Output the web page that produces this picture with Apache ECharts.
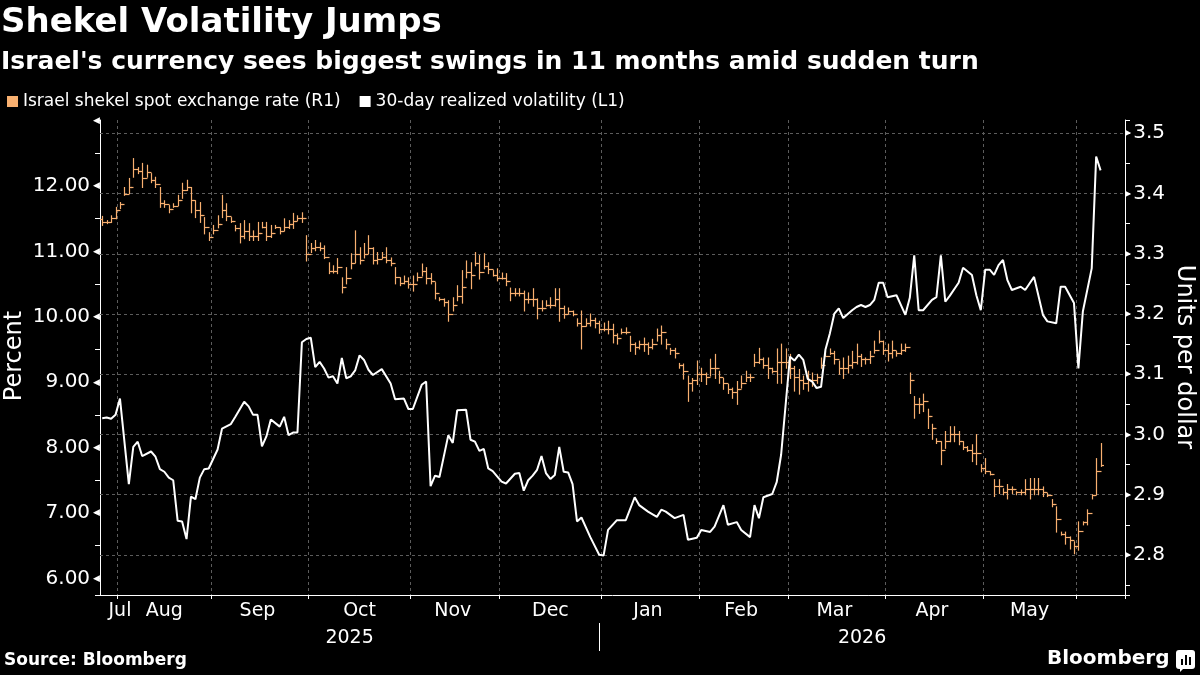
<!DOCTYPE html>
<html>
<head>
<meta charset="utf-8">
<script src="https://cdn.jsdelivr.net/npm/echarts@6/dist/echarts.min.js"></script>
<style>
  html, body { margin: 0; background: #000; }
  #chart { width: 1200px; height: 675px; }
</style>
</head>
<body>
<div id="chart"></div>
<script>
const FONT = 'DejaVu Sans';
const ORANGE = '#f8b070';
const GRID = '#5c5c5c';

// trading days (weekdays) shown on the axis
const firstDay = Date.UTC(2025, 6, 28);
const lastDay = Date.UTC(2026, 5, 15);
const days = [];
for (let t = firstDay; t <= lastDay; t += 864e5) {
  const d = new Date(t);
  if (d.getUTCDay() !== 0 && d.getUTCDay() !== 6) days.push(d.toISOString().slice(0, 10));
}

// shekel per dollar, one bar per trading day
const rateOpen = [
  3.357, 3.352, 3.353, 3.360, 3.372, 3.382, 3.400, 3.410, 3.440, 3.437,
  3.425, 3.435, 3.422, 3.415, 3.385, 3.383, 3.375, 3.380, 3.390, 3.405,
  3.410, 3.390, 3.372, 3.365, 3.345, 3.328, 3.340, 3.350, 3.372, 3.362,
  3.355, 3.342, 3.330, 3.338, 3.330, 3.330, 3.335, 3.345, 3.330, 3.335,
  3.345, 3.338, 3.345, 3.350, 3.355, 3.360,
  3.360, 3.300, 3.310, 3.312, 3.310, 3.295, 3.272, 3.272, 3.278, 3.245,
  3.260, 3.285, 3.300, 3.290, 3.300, 3.310, 3.290, 3.292, 3.295, 3.290,
  3.285, 3.262, 3.252, 3.255, 3.250, 3.250, 3.262, 3.272, 3.260, 3.255,
  3.235, 3.225, 3.220, 3.200, 3.215, 3.230, 3.245, 3.270, 3.265, 3.285,
  3.270, 3.280, 3.275, 3.265, 3.260, 3.260, 3.255, 3.235, 3.235, 3.235,
  3.225, 3.225, 3.225, 3.210, 3.210, 3.215, 3.215, 3.225,
  3.210, 3.200, 3.205, 3.200, 3.185, 3.180, 3.185, 3.190, 3.185, 3.175,
  3.175, 3.175, 3.165, 3.160, 3.170, 3.170, 3.150, 3.145, 3.150, 3.150,
  3.145, 3.150, 3.165, 3.170, 3.150, 3.140, 3.135, 3.115, 3.105, 3.085,
  3.090, 3.100, 3.100, 3.095, 3.110, 3.110, 3.095, 3.085, 3.075, 3.070,
  3.075, 3.085, 3.095, 3.095, 3.120, 3.125, 3.115, 3.110, 3.105,
  3.120, 3.120, 3.120, 3.110, 3.095, 3.090, 3.085, 3.090, 3.090, 3.095,
  3.115, 3.130, 3.135, 3.125, 3.110, 3.110, 3.115, 3.120, 3.130, 3.125,
  3.125, 3.130, 3.140, 3.155, 3.140, 3.135, 3.140, 3.135, 3.140,
  3.145, 3.090, 3.050, 3.050, 3.055, 3.030, 3.010, 2.990, 2.975, 2.990,
  3.000, 3.000, 2.990, 2.980, 2.975, 2.970, 2.970, 2.945, 2.940, 2.935,
  2.915, 2.915, 2.905, 2.910, 2.910, 2.905, 2.905, 2.910, 2.910, 2.910,
  2.910, 2.905, 2.900, 2.885, 2.860, 2.835, 2.830, 2.825, 2.815, 2.840,
  2.855, 2.870, 2.900, 2.940
];
const rateHigh = [
  3.362, 3.355, 3.363, 3.377, 3.385, 3.410, 3.425, 3.458, 3.443, 3.450,
  3.447, 3.433, 3.427, 3.410, 3.388, 3.380, 3.383, 3.397, 3.417, 3.422,
  3.410, 3.388, 3.385, 3.360, 3.335, 3.347, 3.363, 3.397, 3.383, 3.360,
  3.347, 3.350, 3.355, 3.350, 3.338, 3.352, 3.352, 3.352, 3.347, 3.347,
  3.343, 3.358, 3.355, 3.367, 3.363, 3.368,
  3.330, 3.317, 3.322, 3.318, 3.313, 3.285, 3.280, 3.292, 3.260, 3.277,
  3.300, 3.338, 3.310, 3.317, 3.330, 3.310, 3.302, 3.302, 3.310, 3.293,
  3.277, 3.260, 3.263, 3.260, 3.263, 3.268, 3.283, 3.277, 3.267, 3.252,
  3.227, 3.225, 3.222, 3.227, 3.247, 3.272, 3.288, 3.285, 3.302, 3.297,
  3.300, 3.285, 3.272, 3.275, 3.268, 3.267, 3.243, 3.242, 3.242, 3.238,
  3.235, 3.242, 3.225, 3.222, 3.222, 3.227, 3.242, 3.242,
  3.213, 3.210, 3.205, 3.192, 3.205, 3.192, 3.200, 3.193, 3.188, 3.185,
  3.188, 3.183, 3.167, 3.175, 3.177, 3.163, 3.152, 3.155, 3.160, 3.152,
  3.158, 3.175, 3.180, 3.158, 3.143, 3.143, 3.118, 3.117, 3.097, 3.093,
  3.122, 3.110, 3.102, 3.125, 3.133, 3.105, 3.093, 3.083, 3.077, 3.088,
  3.097, 3.105, 3.100, 3.133, 3.143, 3.127, 3.127, 3.110, 3.142,
  3.150, 3.142, 3.133, 3.113, 3.108, 3.097, 3.105, 3.102, 3.100, 3.127,
  3.138, 3.142, 3.138, 3.122, 3.127, 3.130, 3.138, 3.150, 3.133, 3.127,
  3.138, 3.155, 3.172, 3.155, 3.150, 3.155, 3.138, 3.150, 3.150,
  3.102, 3.063, 3.060, 3.067, 3.042, 3.017, 2.993, 2.988, 3.005, 3.013,
  3.013, 3.005, 2.988, 2.980, 2.983, 3.000, 2.950, 2.960, 2.938, 2.925,
  2.925, 2.910, 2.917, 2.913, 2.905, 2.908, 2.925, 2.927, 2.927, 2.927,
  2.913, 2.902, 2.892, 2.880, 2.838, 2.838, 2.830, 2.822, 2.855, 2.855,
  2.875, 2.900, 2.960, 2.985
];
const rateLow = [
  3.347, 3.350, 3.352, 3.358, 3.375, 3.397, 3.400, 3.427, 3.433, 3.410,
  3.427, 3.418, 3.410, 3.377, 3.377, 3.368, 3.377, 3.380, 3.392, 3.405,
  3.368, 3.360, 3.352, 3.333, 3.322, 3.333, 3.343, 3.360, 3.355, 3.352,
  3.338, 3.318, 3.325, 3.322, 3.322, 3.322, 3.343, 3.322, 3.327, 3.342,
  3.333, 3.338, 3.342, 3.342, 3.355, 3.352,
  3.288, 3.302, 3.305, 3.305, 3.292, 3.267, 3.268, 3.267, 3.235, 3.250,
  3.275, 3.285, 3.283, 3.293, 3.300, 3.283, 3.283, 3.292, 3.285, 3.280,
  3.250, 3.247, 3.250, 3.243, 3.238, 3.255, 3.263, 3.250, 3.250, 3.225,
  3.222, 3.213, 3.188, 3.205, 3.222, 3.218, 3.260, 3.242, 3.280, 3.258,
  3.275, 3.267, 3.263, 3.255, 3.258, 3.247, 3.222, 3.230, 3.230, 3.205,
  3.218, 3.213, 3.192, 3.205, 3.213, 3.210, 3.213, 3.188,
  3.193, 3.200, 3.197, 3.180, 3.142, 3.180, 3.180, 3.177, 3.168, 3.172,
  3.167, 3.152, 3.150, 3.167, 3.167, 3.138, 3.133, 3.142, 3.138, 3.133,
  3.142, 3.155, 3.150, 3.142, 3.133, 3.127, 3.110, 3.092, 3.055, 3.072,
  3.083, 3.088, 3.083, 3.097, 3.093, 3.085, 3.075, 3.068, 3.060, 3.050,
  3.077, 3.088, 3.088, 3.113, 3.118, 3.110, 3.093, 3.102, 3.085,
  3.085, 3.110, 3.093, 3.072, 3.067, 3.075, 3.072, 3.080, 3.085, 3.110,
  3.130, 3.133, 3.117, 3.100, 3.093, 3.102, 3.110, 3.117, 3.113, 3.117,
  3.118, 3.135, 3.152, 3.133, 3.122, 3.127, 3.130, 3.133, 3.138,
  3.068, 3.027, 3.035, 3.038, 3.010, 2.992, 2.985, 2.950, 2.977, 2.988,
  2.988, 2.983, 2.975, 2.972, 2.955, 2.950, 2.938, 2.935, 2.933, 2.897,
  2.902, 2.900, 2.893, 2.902, 2.900, 2.900, 2.900, 2.893, 2.900, 2.900,
  2.897, 2.897, 2.880, 2.838, 2.833, 2.818, 2.810, 2.802, 2.808, 2.850,
  2.850, 2.893, 2.900, 2.947
];
const rateClose = [
  3.352, 3.353, 3.360, 3.372, 3.382, 3.400, 3.410, 3.440, 3.437, 3.425,
  3.435, 3.422, 3.415, 3.385, 3.383, 3.375, 3.380, 3.390, 3.405, 3.410,
  3.390, 3.372, 3.365, 3.345, 3.328, 3.340, 3.350, 3.372, 3.362, 3.355,
  3.342, 3.330, 3.338, 3.330, 3.330, 3.335, 3.345, 3.330, 3.335, 3.345,
  3.338, 3.345, 3.350, 3.355, 3.360, 3.360,
  3.300, 3.310, 3.312, 3.310, 3.295, 3.272, 3.272, 3.278, 3.245, 3.260,
  3.285, 3.300, 3.290, 3.300, 3.310, 3.290, 3.292, 3.295, 3.290, 3.285,
  3.262, 3.252, 3.255, 3.250, 3.250, 3.262, 3.272, 3.260, 3.255, 3.235,
  3.225, 3.220, 3.200, 3.215, 3.230, 3.245, 3.270, 3.265, 3.285, 3.270,
  3.280, 3.275, 3.265, 3.260, 3.260, 3.255, 3.235, 3.235, 3.235, 3.225,
  3.225, 3.225, 3.210, 3.210, 3.215, 3.215, 3.225, 3.210,
  3.200, 3.205, 3.200, 3.185, 3.180, 3.185, 3.190, 3.185, 3.175, 3.175,
  3.175, 3.165, 3.160, 3.170, 3.170, 3.150, 3.145, 3.150, 3.150, 3.145,
  3.150, 3.165, 3.170, 3.150, 3.140, 3.135, 3.115, 3.105, 3.085, 3.090,
  3.100, 3.100, 3.095, 3.110, 3.110, 3.095, 3.085, 3.075, 3.070, 3.075,
  3.085, 3.095, 3.095, 3.120, 3.125, 3.115, 3.110, 3.105, 3.120,
  3.120, 3.120, 3.110, 3.095, 3.090, 3.085, 3.090, 3.090, 3.095, 3.115,
  3.130, 3.135, 3.125, 3.110, 3.110, 3.115, 3.120, 3.130, 3.125, 3.125,
  3.130, 3.140, 3.155, 3.140, 3.135, 3.140, 3.135, 3.140, 3.145,
  3.090, 3.050, 3.050, 3.055, 3.030, 3.010, 2.990, 2.975, 2.990, 3.000,
  3.000, 2.990, 2.980, 2.975, 2.970, 2.970, 2.945, 2.940, 2.935, 2.915,
  2.915, 2.905, 2.910, 2.910, 2.905, 2.905, 2.910, 2.910, 2.910, 2.910,
  2.905, 2.900, 2.885, 2.860, 2.835, 2.830, 2.825, 2.815, 2.840, 2.855,
  2.870, 2.900, 2.940, 2.950
];

// 30-day realized volatility, % : trading-day index and value at the line's turns
const volDay = [
  0, 1, 2, 3, 4, 6, 7, 8, 9, 11, 12, 13, 14, 15, 16, 17, 18, 19, 20, 21,
  22, 23, 24, 26, 27, 29, 30, 32, 33, 34, 35, 36, 37, 38, 40, 41, 42, 43, 44, 45,
  46, 47, 48, 49, 50, 51, 52, 53, 54, 55, 56, 57, 58, 59, 60, 61, 63, 65, 66, 68,
  69, 70, 72, 73, 74, 75, 76, 78, 79, 80, 82, 83, 84, 85, 86, 87, 88, 90, 91, 93,
  94, 95, 96, 97, 98, 99, 100, 101, 102, 103, 104, 105, 106, 107, 108, 110, 112, 113, 114, 116,
  118, 120, 121, 123, 125, 126, 127, 129, 131, 132, 134, 135, 137, 138, 140, 141, 143, 144, 146, 147,
  148, 149, 151, 152, 153, 155, 156, 157, 158, 159, 160, 161, 162, 163, 164, 165, 166, 167, 169, 170,
  171, 172, 173, 174, 175, 176, 177, 179, 181, 182, 183, 184, 185, 187, 188, 189, 190, 191, 193, 194,
  196, 197, 198, 199, 200, 201, 202, 203, 204, 205, 207, 208, 210, 212, 213, 215, 216, 217, 219, 220,
  221, 223, 224, 225
];
const volPct = [
  8.45, 8.46, 8.44, 8.50, 8.75, 7.44, 8.01, 8.09, 7.87, 7.94, 7.86, 7.67, 7.63, 7.54, 7.50, 6.88, 6.87, 6.60, 7.25, 7.21,
  7.54, 7.67, 7.68, 7.97, 8.29, 8.36, 8.47, 8.70, 8.63, 8.50, 8.50, 8.02, 8.17, 8.43, 8.32, 8.47, 8.19, 8.23, 8.23, 9.61,
  9.66, 9.68, 9.23, 9.31, 9.21, 9.07, 9.09, 8.98, 9.37, 9.06, 9.09, 9.18, 9.41, 9.34, 9.19, 9.11, 9.20, 8.98, 8.74, 8.75,
  8.59, 8.59, 8.96, 9.01, 7.41, 7.57, 7.55, 8.19, 8.07, 8.57, 8.58, 8.12, 8.09, 7.95, 7.98, 7.68, 7.64, 7.48, 7.45, 7.60,
  7.61, 7.34, 7.50, 7.57, 7.66, 7.87, 7.61, 7.52, 7.58, 8.01, 7.63, 7.62, 7.44, 6.87, 6.93, 6.63, 6.36, 6.35, 6.74, 6.89,
  6.89, 7.24, 7.12, 7.02, 6.94, 7.05, 7.02, 6.92, 6.97, 6.59, 6.62, 6.74, 6.71, 6.79, 7.12, 6.82, 6.86, 6.74, 6.63, 7.12,
  6.92, 7.24, 7.29, 7.47, 7.89, 9.39, 9.33, 9.42, 9.34, 9.05, 9.01, 8.91, 8.93, 9.50, 9.75, 10.05, 10.13, 9.98, 10.10, 10.15,
  10.18, 10.15, 10.18, 10.26, 10.52, 10.52, 10.30, 10.33, 10.03, 10.29, 10.94, 10.10, 10.10, 10.26, 10.30, 10.94, 10.23, 10.32, 10.52, 10.75,
  10.64, 10.33, 10.10, 10.72, 10.72, 10.64, 10.79, 10.87, 10.56, 10.41, 10.46, 10.41, 10.61, 10.03, 9.93, 9.90, 10.46, 10.46, 10.21, 9.21,
  10.08, 10.74, 12.45, 12.24
];

// axis text
const monthLabelDays = ['2025-08-01', '2025-08-15', '2025-09-15', '2025-10-16', '2025-11-14', '2025-12-16',
  '2026-01-15', '2026-02-13', '2026-03-16', '2026-04-15', '2026-05-15'];
const monthLabelNames = ['Jul', 'Aug', 'Sep', 'Oct', 'Nov', 'Dec', 'Jan', 'Feb', 'Mar', 'Apr', 'May'];
const yearLabelDays = ['2025-10-14', '2026-03-24'];
const yearLabelNames = ['2025', '2026'];
const yearBreakDay = '2025-12-31';
const rateGridLines = [2.8, 2.9, 3.0, 3.1, 3.2, 3.3, 3.4, 3.5];

const isMonthStart = (i) => i > 0 && days[i].slice(0, 7) !== days[i - 1].slice(0, 7);

const chart = echarts.init(document.getElementById('chart'));

const txt = (size, bold) => ({ color: '#fff', fontSize: size, fontFamily: FONT, fontWeight: bold ? 'bold' : 'normal' });

const option = {
  backgroundColor: '#000',
  animation: false,
  title: [
    { text: 'Shekel Volatility Jumps', left: 1, top: 6, padding: 0, textStyle: txt(34, true) },
    { text: "Israel's currency sees biggest swings in 11 months amid sudden turn", left: 1, top: 50, padding: 0, textStyle: txt(25, true) },
    { text: 'Source: Bloomberg', left: 4, top: 652, padding: 0, textStyle: txt(17, true) },
    { text: 'Bloomberg', left: 1047, top: 649, padding: 0, textStyle: txt(20, true) }
  ],
  graphic: [
    {
      // axis titles
      type: 'text', x: 15, y: 356, rotation: Math.PI / 2,
      style: { text: 'Percent', fill: '#fff', font: '24px "DejaVu Sans"', align: 'center', verticalAlign: 'middle' }
    },
    {
      type: 'text', x: 1184, y: 357, rotation: -Math.PI / 2,
      style: { text: 'Units per dollar', fill: '#fff', font: '24px "DejaVu Sans"', align: 'center', verticalAlign: 'middle' }
    },
    {
      type: 'group', left: 1176, top: 650,
      children: [
        { type: 'rect', shape: { x: 0, y: 0, width: 19, height: 19, r: 3 }, style: { fill: '#fff' } },
        { type: 'polygon', shape: { points: [[4, 18], [8, 18], [4, 22]] }, style: { fill: '#fff' } },
        { type: 'rect', shape: { x: 5, y: 9, width: 2, height: 6 }, style: { fill: '#000' } },
        { type: 'rect', shape: { x: 9, y: 5, width: 2, height: 10 }, style: { fill: '#000' } },
        { type: 'rect', shape: { x: 13, y: 7, width: 2, height: 8 }, style: { fill: '#000' } }
      ]
    }
  ],
  legend: {
    left: 7, top: 93, padding: 0, itemWidth: 11, itemHeight: 11, itemGap: 19, icon: 'rect',
    textStyle: txt(17),
    data: [
      { name: 'Israel shekel spot exchange rate (R1)', itemStyle: { color: ORANGE } },
      { name: '30-day realized volatility (L1)', itemStyle: { color: '#fff' } }
    ]
  },
  grid: { left: 100, right: 75, top: 120, bottom: 80, containLabel: false, outerBoundsMode: 'none' },
  xAxis: [
    {
      type: 'category', data: days, boundaryGap: true,
      axisLine: { lineStyle: { color: '#fff', width: 1 } },
      axisTick: { show: true, length: 4, interval: (i) => isMonthStart(i), lineStyle: { color: '#fff' } },
      axisLabel: {
        interval: (i, v) => monthLabelDays.includes(v),
        formatter: (v) => monthLabelNames[monthLabelDays.indexOf(v)],
        margin: 7, ...txt(19)
      },
      splitLine: { show: true, interval: (i) => isMonthStart(i), lineStyle: { color: GRID, type: [3, 3], width: 1 } }
    },
    {
      type: 'category', data: days, boundaryGap: false, position: 'bottom', offset: 28,
      axisLine: { show: false },
      axisTick: { show: true, length: 28, interval: (i, v) => v === yearBreakDay, lineStyle: { color: '#fff' } },
      axisLabel: {
        interval: (i, v) => yearLabelDays.includes(v),
        formatter: (v) => yearLabelNames[yearLabelDays.indexOf(v)],
        margin: 6, ...txt(19)
      },
      splitLine: { show: false }
    }
  ],
  yAxis: [
    {
      type: 'value', position: 'left', min: 5.745, max: 13.01, splitNumber: 15,
      axisLine: { show: true, lineStyle: { color: '#fff' } },
      axisTick: { show: true, length: 5, lineStyle: { color: '#fff' } },
      axisLabel: {
        margin: 0,
        formatter: (v) => {
          if (Math.abs(v - Math.round(v)) > 1e-6) return '';
          if (v > 12.5) return '{t|◀}';
          return '{v|' + v.toFixed(2) + '}{t|◀}';
        },
        rich: { v: { ...txt(20), padding: [0, 3, 0, 0] }, t: { color: '#fff', fontSize: 9, fontFamily: FONT } }
      },
      splitLine: { show: false }
    },
    {
      type: 'value', position: 'right', min: 2.7336, max: 3.522, splitNumber: 15,
      axisLine: { show: true, lineStyle: { color: '#fff' } },
      axisTick: { show: true, length: 5, lineStyle: { color: '#fff' } },
      axisLabel: {
        margin: 0,
        formatter: (v) => {
          if (Math.abs(v * 10 - Math.round(v * 10)) > 1e-6) return '';
          return '{t|▶}{v|' + v.toFixed(1) + '}';
        },
        rich: { v: { ...txt(20), padding: [0, 0, 0, 2] }, t: { color: '#fff', fontSize: 8, fontFamily: FONT } }
      },
      splitLine: { show: false }
    }
  ],
  series: [
    {
      name: 'Israel shekel spot exchange rate (R1)',
      type: 'custom', xAxisIndex: 0, yAxisIndex: 1, z: 3,
      itemStyle: { color: ORANGE },
      encode: { x: 0, y: [1, 2, 3, 4] },
      data: rateClose.map((c, i) => [i, rateOpen[i], c, rateHigh[i], rateLow[i]]),
      renderItem: (params, api) => {
        const i = api.value(0);
        const o = api.coord([i, api.value(1)]);
        const c = api.coord([i, api.value(2)]);
        const h = api.coord([i, api.value(3)]);
        const l = api.coord([i, api.value(4)]);
        const x = Math.round(o[0]) + 0.5;
        const style = { stroke: ORANGE, lineWidth: 1.2 };
        return {
          type: 'group',
          children: [
            { type: 'line', shape: { x1: x, y1: h[1] - 0.5, x2: x, y2: l[1] + 0.5 }, style },
            { type: 'line', shape: { x1: x - 2.5, y1: Math.round(o[1]) + 0.5, x2: x, y2: Math.round(o[1]) + 0.5 }, style },
            { type: 'line', shape: { x1: x, y1: Math.round(c[1]) + 0.5, x2: x + 2.5, y2: Math.round(c[1]) + 0.5 }, style }
          ]
        };
      },
      markLine: {
        silent: true, symbol: 'none', z: 1, animation: false,
        label: { show: false },
        lineStyle: { color: GRID, type: [3, 3], width: 1 },
        data: rateGridLines.map((v) => ({ yAxis: v }))
      }
    },
    {
      name: '30-day realized volatility (L1)',
      type: 'line', xAxisIndex: 0, yAxisIndex: 0, z: 4,
      showSymbol: false, symbol: 'none',
      itemStyle: { color: '#fff' },
      lineStyle: { color: '#fff', width: 2 },
      data: volDay.map((d, i) => [d, volPct[i]])
    }
  ]
};

chart.setOption(option);
</script>
</body>
</html>
